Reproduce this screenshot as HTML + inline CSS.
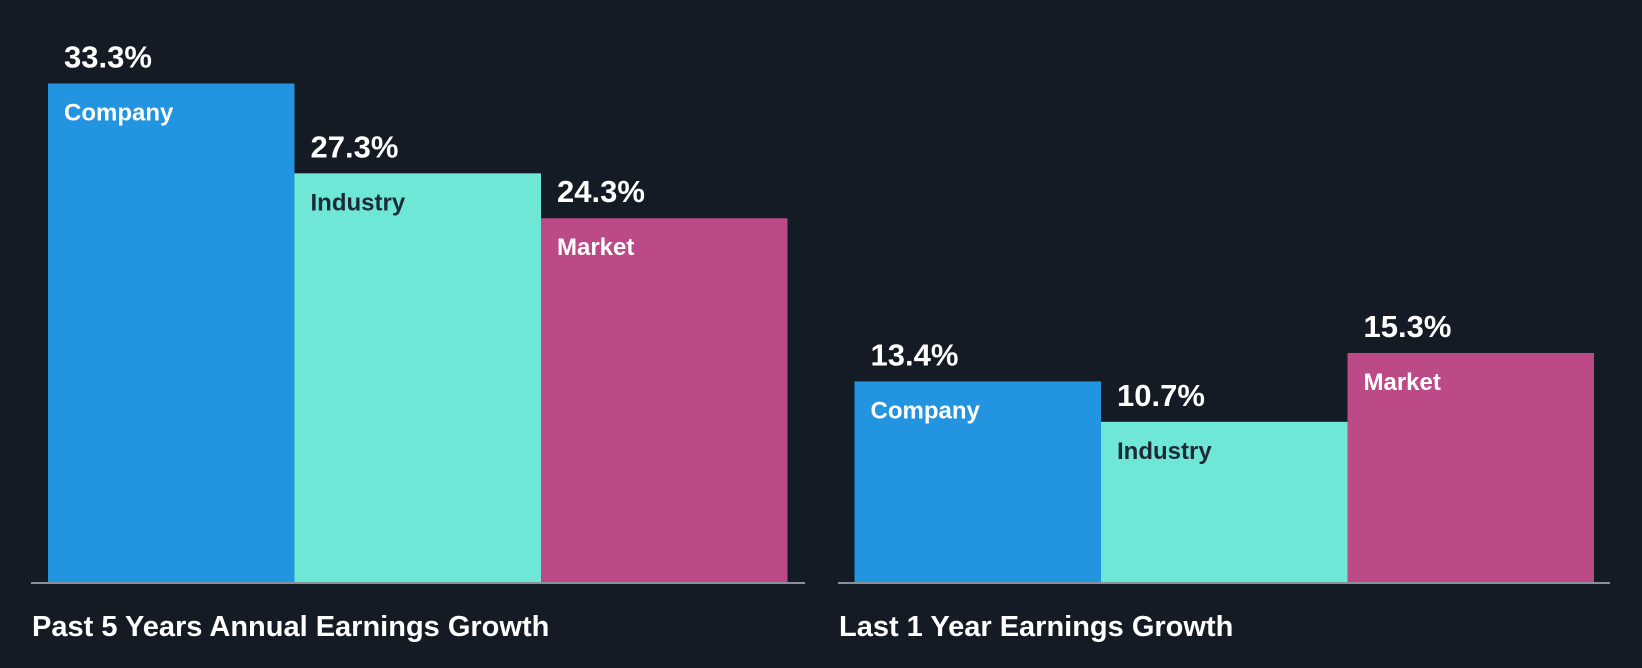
<!DOCTYPE html>
<html><head><meta charset="utf-8"><style>
html,body{margin:0;padding:0;background:#151b24;}
svg{display:block;font-family:"Liberation Sans",Arial,sans-serif;}
</style></head><body>
<svg id="chart" width="1642" height="668" viewBox="0 0 1642 668" xmlns="http://www.w3.org/2000/svg">
<rect width="1642" height="668" fill="#151b24"/>
<g id="bars"></g>
</svg>
<script>
const groups = ["Past 5 Years Annual Earnings Growth", "Last 1 Year Earnings Growth"];
const categories = ["Company", "Industry", "Market"];
const past5Values = [33.3, 27.3, 24.3];
const last1Values = [13.4, 10.7, 15.3];
const seriesValues = [past5Values, last1Values];
const valueLabels = [["33.3%","27.3%","24.3%"],["13.4%","10.7%","15.3%"]];

const colors = ["#2394df", "#6fe7d6", "#bb4a87"];
const textColors = ["#ffffff", "#1e2a36", "#ffffff"];
const baseY = 582;
const pxPerUnit = 14.97;
const groupX = [48, 854.5];
const barW = 246.5;
const axisX = [[31, 805], [838, 1610]];
function yScale(v){ return baseY - v * pxPerUnit; }
function xScale(g, i){ return groupX[g] + i * barW; }

const ns = "http://www.w3.org/2000/svg";
const root = document.getElementById("bars");
function mk(tag, attrs){ const e = document.createElementNS(ns, tag); for (const k in attrs) e.setAttribute(k, attrs[k]); return e; }

groups.forEach((gName, g) => {
  seriesValues[g].forEach((v, i) => {
    const x = xScale(g, i), y = yScale(v);
    const r = mk("rect", {x: x, y: y, width: barW, height: baseY - y, fill: colors[i]});
    
    
    root.appendChild(r);
    const vt = mk("text", {x: x + 16, y: y - 16, fill: "#ffffff", "font-size": "31", "font-weight": "bold"});
    vt.textContent = valueLabels[g][i];
    
    
    root.appendChild(vt);
    const ct = mk("text", {x: x + 16, y: y + 37, fill: textColors[i], "font-size": "24", "font-weight": "bold"});
    ct.textContent = categories[i];
    
    
    root.appendChild(ct);
  });
  const ax = mk("line", {x1: axisX[g][0], x2: axisX[g][1], y1: baseY + 1, y2: baseY + 1, stroke: "#8a9099", "stroke-width": 2});
  
  
  root.appendChild(ax);
  const t = mk("text", {x: axisX[g][0] + 1, y: 636, fill: "#ffffff", "font-size": "29", "font-weight": "bold"});
  t.textContent = gName;
  
  
  root.appendChild(t);
});
</script>
</body></html>
